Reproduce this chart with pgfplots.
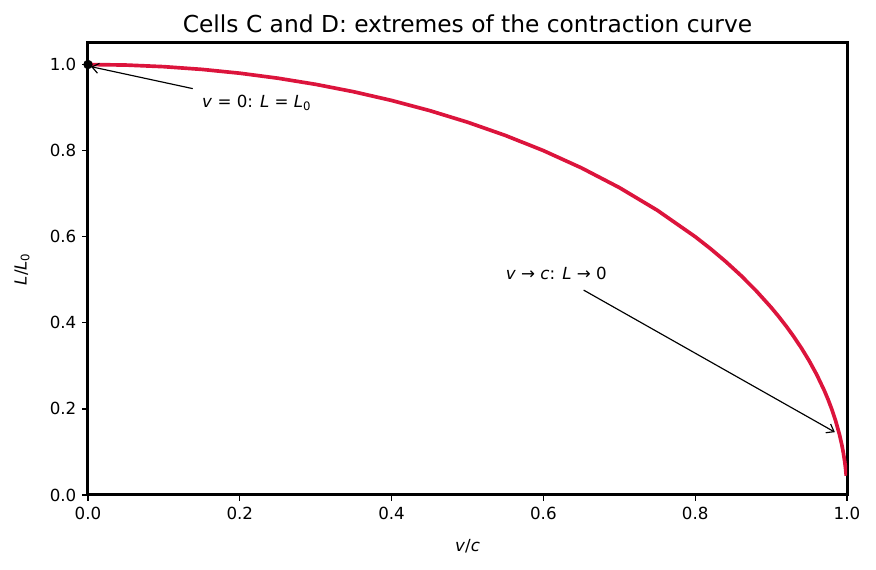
\documentclass[border=0pt]{standalone}
\usepackage{fontspec}
\setmainfont{DejaVu Sans}
\usepackage{pgfplots}
\pgfplotsset{compat=1.18}
\usetikzlibrary{arrows.meta}
\definecolor{crimson}{RGB}{220,20,60}
\begin{document}
\begin{tikzpicture}
\useasboundingbox (-52.8pt,-45pt) rectangle (472.8pt,297pt);
\begin{axis}[
  at={(0,0)}, anchor=south west,
  scale only axis, width=455.4pt, height=271.2pt,
  xmin=0, xmax=1, ymin=0, ymax=1.05,
  xtick={0,0.2,0.4,0.6,0.8,1.0},
  ytick={0,0.2,0.4,0.6,0.8,1.0},
  xticklabel style={/pgf/number format/.cd,fixed,fixed zerofill,precision=1},
  yticklabel style={/pgf/number format/.cd,fixed,fixed zerofill,precision=1},
  /pgf/number format/assume math mode=true,
  tick align=outside, tick pos=left,
  major tick length=3.5pt,
  every tick/.style={black, line width=0.8pt},
  axis line style={line width=1.8pt},
  ticklabel style={font=\fontsize{10}{12}\selectfont},
  xlabel={\textit{v}/\textit{c}},
  label style={font=\fontsize{10}{12}\selectfont},
  xlabel style={at={(axis description cs:0.5,0)}, anchor=center, yshift=-31pt},
  clip=true,
]
\addplot[crimson, line width=2.2pt, no markers] coordinates {
(0,1) (0.05,0.99875) (0.1,0.99499) (0.15,0.98869) (0.2,0.97980) (0.25,0.96825)
(0.3,0.95394) (0.35,0.93675) (0.4,0.91652) (0.45,0.89303) (0.5,0.86603)
(0.55,0.83516) (0.6,0.8) (0.65,0.75993) (0.7,0.71414) (0.75,0.66144)
(0.8,0.6) (0.82,0.57236) (0.84,0.54259) (0.86,0.51029) (0.88,0.47497)
(0.9,0.43589) (0.91,0.41461) (0.92,0.39192) (0.93,0.36756) (0.94,0.34117)
(0.95,0.31225) (0.96,0.28) (0.97,0.24310) (0.975,0.22220) (0.98,0.19900)
(0.985,0.17255) (0.99,0.14107) (0.993,0.11811) (0.995,0.09987) (0.997,0.07740)
(0.998,0.06321) (0.999,0.04471)
};
\addplot[only marks, mark=*, mark size=2.6pt, black] coordinates {(0,1)};
\draw[-{Straight Barb[length=4pt,width=6pt]}, line width=0.7pt] (axis cs:0.138,0.944) -- (axis cs:0.004,0.995);
\node[anchor=base west, font=\fontsize{10}{12}\selectfont, inner sep=0pt] at (axis cs:0.15,0.9) {\textit{v} = 0: \textit{L} = \textit{L}\textsubscript{0}};
\draw[-{Straight Barb[length=4pt,width=6pt]}, line width=0.7pt] (axis cs:0.653,0.476) -- (axis cs:0.984,0.146);
\node[anchor=base west, font=\fontsize{10}{12}\selectfont, inner sep=0pt] at (axis cs:0.55,0.5) {\textit{v} → \textit{c}: \textit{L} → 0};
\end{axis}
\node[font=\fontsize{14}{16}\selectfont] at (227.7pt,283pt) {Cells C and D: extremes of the contraction curve};
\node[rotate=90, font=\fontsize{10}{12}\selectfont] at (-39.6pt,135.6pt) {\textit{L}/\textit{L}\textsubscript{0}};
\end{tikzpicture}
\end{document}
